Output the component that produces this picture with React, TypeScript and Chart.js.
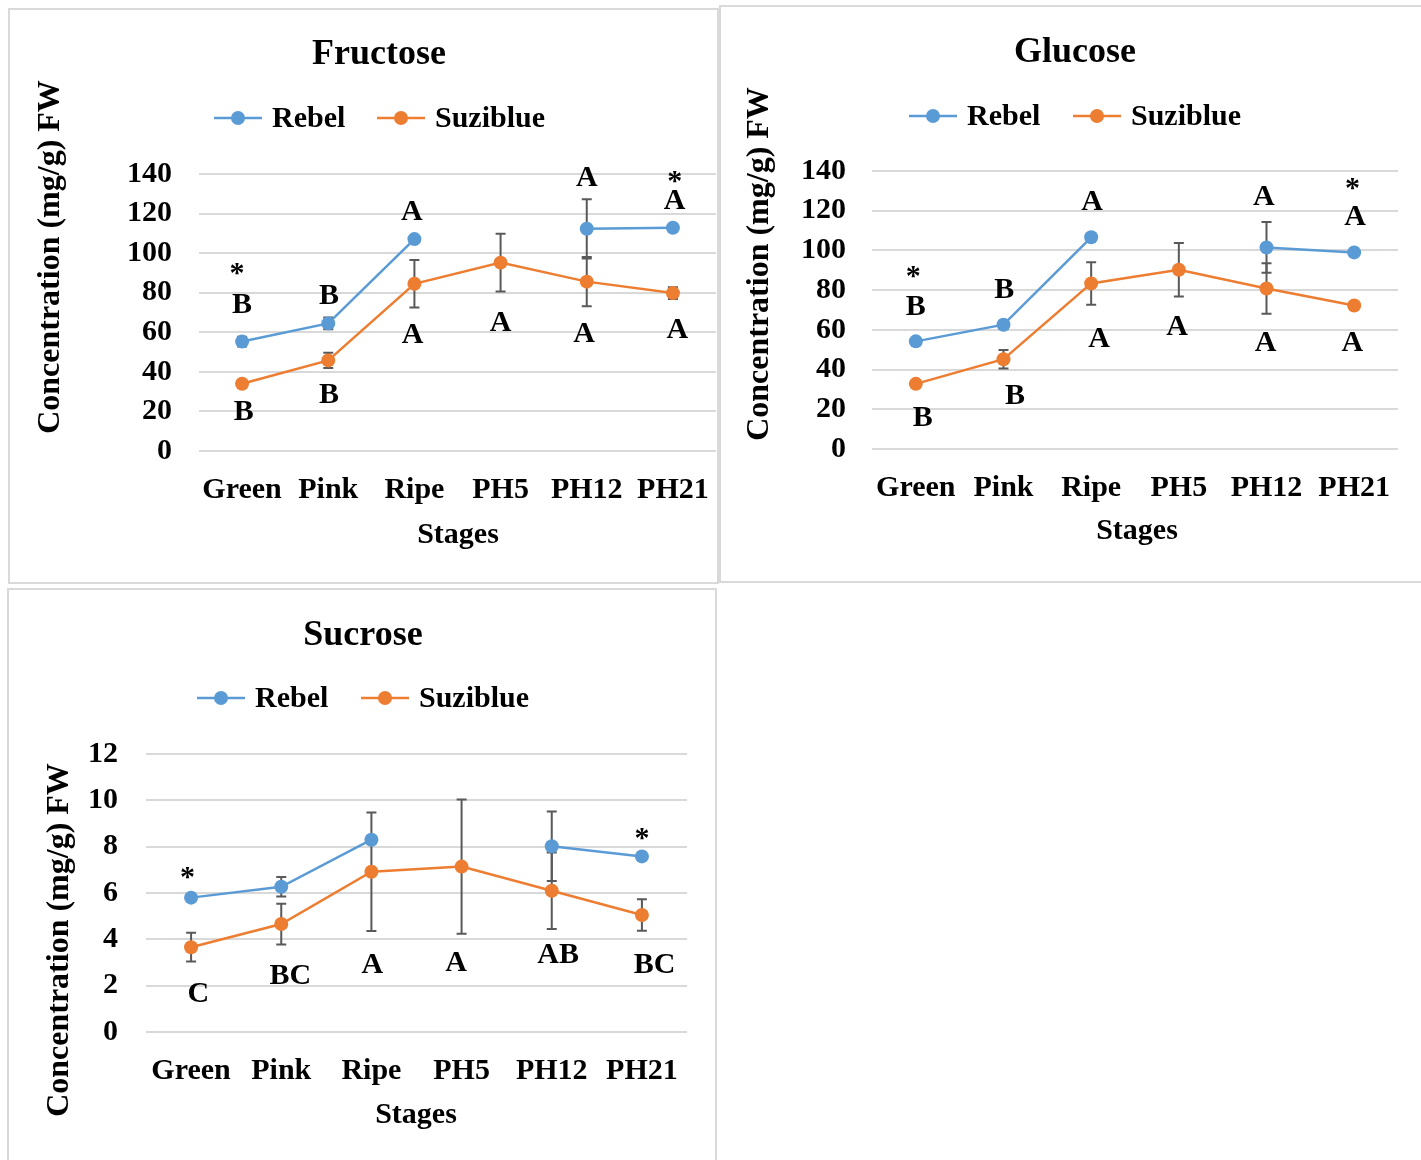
import React, { useEffect, useRef } from 'react';
import { Chart, registerables } from 'chart.js';

Chart.register(...registerables);

// ---------- data ----------
const stages = ['Green', 'Pink', 'Ripe', 'PH5', 'PH12', 'PH21'];
const seriesNames = ['Rebel', 'Suziblue'];

const fructoseRebel = [55.3, 64.5, 107.1, null, 112.3, 112.8];
const fructoseRebelErr = [2.5, 3, 1, null, 15, 1];
const fructoseSuziblue = [34.0, 45.8, 84.5, 95.2, 85.6, 79.8];
const fructoseSuziblueErr = [1.5, 3.8, 12, 14.6, 12.4, 3];

const glucoseRebel = [54.2, 62.6, 106.6, null, 101.5, 99.0];
const glucoseRebelErr = [1.2, 2, 1.2, null, 12.8, 1.2];
const glucoseSuziblue = [32.8, 45.2, 83.4, 90.3, 80.8, 72.3];
const glucoseSuziblueErr = [1.2, 4.7, 10.7, 13.5, 12.7, 1.2];

const sucroseRebel = [5.8, 6.27, 8.3, null, 8.02, 7.58];
const sucroseRebelErr = [0.12, 0.42, 0.15, null, 1.5, 0.12];
const sucroseSuziblue = [3.66, 4.66, 6.92, 7.14, 6.1, 5.05];
const sucroseSuziblueErr = [0.62, 0.88, 2.56, 2.9, 1.65, 0.68];

// significance letters: stage index (fractional), value, text
const fructoseNotes = [
  { stage: -0.06, value: 93, text: '*' },
  { stage: 0, value: 74.3, text: 'B' },
  { stage: 1.01, value: 78.8, text: 'B' },
  { stage: 1.97, value: 121, text: 'A' },
  { stage: 4, value: 138.5, text: 'A' },
  { stage: 5.02, value: 139.5, text: '*' },
  { stage: 5.02, value: 126.8, text: 'A' },
  { stage: 0.02, value: 20.2, text: 'B' },
  { stage: 1.01, value: 28.8, text: 'B' },
  { stage: 1.98, value: 59, text: 'A' },
  { stage: 3, value: 65.2, text: 'A' },
  { stage: 3.97, value: 59.6, text: 'A' },
  { stage: 5.05, value: 61.6, text: 'A' },
];
const glucoseNotes = [
  { stage: -0.03, value: 90.1, text: '*' },
  { stage: 0, value: 72, text: 'B' },
  { stage: 1.01, value: 80.6, text: 'B' },
  { stage: 2.01, value: 124.9, text: 'A' },
  { stage: 3.97, value: 127.4, text: 'A' },
  { stage: 4.98, value: 134.4, text: '*' },
  { stage: 5.01, value: 117.3, text: 'A' },
  { stage: 0.08, value: 16.1, text: 'B' },
  { stage: 1.13, value: 27.2, text: 'B' },
  { stage: 2.09, value: 55.9, text: 'A' },
  { stage: 2.98, value: 61.9, text: 'A' },
  { stage: 3.99, value: 53.9, text: 'A' },
  { stage: 4.98, value: 53.9, text: 'A' },
];
const sucroseNotes = [
  { stage: -0.04, value: 6.95, text: '*' },
  { stage: 5, value: 8.63, text: '*' },
  { stage: 0.08, value: 1.68, text: 'C' },
  { stage: 1.1, value: 2.46, text: 'BC' },
  { stage: 2.01, value: 2.93, text: 'A' },
  { stage: 2.94, value: 3.02, text: 'A' },
  { stage: 4.07, value: 3.37, text: 'AB' },
  { stage: 5.14, value: 2.93, text: 'BC' },
];

// ---------- styles ----------
const FAMILY = '"Liberation Serif", "Times New Roman", serif';
const BLUE = '#5B9BD5';
const ORANGE = '#ED7D31';
const GRID = '#d9d9d9';
const ERR = '#595959';

const decorPlugin = {
  id: 'decor',
  beforeDatasetsDraw(chart: any, _args: any, opts: any) {
    const ctx = chart.ctx;
    const xs = chart.scales.x;
    const ys = chart.scales.y;
    ctx.save();
    ctx.strokeStyle = ERR;
    ctx.lineWidth = 2;
    chart.data.datasets.forEach((ds: any, di: number) => {
      const errs = opts.errors[di];
      ds.data.forEach((v: number | null, i: number) => {
        if (v == null || errs[i] == null) return;
        const px = xs.getPixelForValue(i);
        const t = ys.getPixelForValue(v + errs[i]);
        const b = ys.getPixelForValue(v - errs[i]);
        ctx.beginPath();
        ctx.moveTo(px, t);
        ctx.lineTo(px, b);
        ctx.moveTo(px - 5, t);
        ctx.lineTo(px + 5, t);
        ctx.moveTo(px - 5, b);
        ctx.lineTo(px + 5, b);
        ctx.stroke();
      });
    });
    ctx.restore();
  },
  afterDraw(chart: any, _args: any, opts: any) {
    const ctx = chart.ctx;
    const xs = chart.scales.x;
    const ys = chart.scales.y;
    ctx.save();
    ctx.fillStyle = '#000';
    ctx.textBaseline = 'middle';
    // title
    ctx.font = `bold 36px ${FAMILY}`;
    ctx.textAlign = 'center';
    ctx.fillText(opts.title, opts.titlePos[0], opts.titlePos[1]);
    // legend
    ctx.font = `bold 30px ${FAMILY}`;
    ctx.textAlign = 'left';
    chart.data.datasets.forEach((ds: any, di: number) => {
      const x0 = opts.legendX[di];
      const y0 = opts.legendY;
      ctx.strokeStyle = ds.borderColor;
      ctx.lineWidth = 2.5;
      ctx.beginPath();
      ctx.moveTo(x0, y0);
      ctx.lineTo(x0 + 48, y0);
      ctx.stroke();
      ctx.fillStyle = ds.borderColor;
      ctx.beginPath();
      ctx.arc(x0 + 24, y0, 7, 0, Math.PI * 2);
      ctx.fill();
      ctx.fillStyle = '#000';
      ctx.fillText(ds.label, x0 + 58, y0 + 1);
    });
    // axis titles
    ctx.textAlign = 'center';
    ctx.fillText('Stages', opts.xTitlePos[0], opts.xTitlePos[1]);
    ctx.save();
    ctx.translate(opts.yTitlePos[0], opts.yTitlePos[1]);
    ctx.rotate(-Math.PI / 2);
    ctx.font = `bold 32px ${FAMILY}`;
    ctx.fillText('Concentration (mg/g) FW', 0, 0);
    ctx.restore();
    // significance letters
    ctx.font = `bold 30px ${FAMILY}`;
    ctx.textAlign = 'center';
    opts.notes.forEach((n: any) => {
      const px = xs.getPixelForValue(n.stage);
      const py = ys.getPixelForValue(n.value) + (n.text === '*' ? 7 : 1);
      ctx.fillText(n.text, px, py);
    });
    ctx.restore();
  },
};

type ChartProps = {
  w: number;
  h: number;
  padding: { left: number; right: number; top: number; bottom: number };
  yWidth: number;
  yMax: number;
  yStep: number;
  yTickPad: number;
  rebel: (number | null)[];
  suzi: (number | null)[];
  rebelErr: (number | null)[];
  suziErr: (number | null)[];
  notes: { stage: number; value: number; text: string }[];
  title: string;
  titlePos: number[];
  legendX: number[];
  legendY: number;
  xTitlePos: number[];
  yTitlePos: number[];
};

function SugarChart(p: ChartProps) {
  const ref = useRef<HTMLCanvasElement | null>(null);
  useEffect(() => {
    if (!ref.current) return;
    const tickFont = { family: FAMILY, size: 30, weight: 'bold' as const };
    const chart = new Chart(ref.current, {
      type: 'line',
      data: {
        labels: stages,
        datasets: [
          {
            label: seriesNames[0],
            data: p.rebel,
            borderColor: BLUE,
            backgroundColor: BLUE,
            pointBackgroundColor: BLUE,
            pointBorderWidth: 0,
            pointRadius: 7,
            borderWidth: 2.5,
            spanGaps: false,
            tension: 0,
          },
          {
            label: seriesNames[1],
            data: p.suzi,
            borderColor: ORANGE,
            backgroundColor: ORANGE,
            pointBackgroundColor: ORANGE,
            pointBorderWidth: 0,
            pointRadius: 7,
            borderWidth: 2.5,
            spanGaps: false,
            tension: 0,
          },
        ],
      },
      options: {
        responsive: false,
        animation: false,
        layout: { padding: p.padding },
        plugins: {
          legend: { display: false },
          title: { display: false },
          tooltip: { enabled: false },
          decor: {
            errors: [p.rebelErr, p.suziErr],
            notes: p.notes,
            title: p.title,
            titlePos: p.titlePos,
            legendX: p.legendX,
            legendY: p.legendY,
            xTitlePos: p.xTitlePos,
            yTitlePos: p.yTitlePos,
          },
        } as any,
        scales: {
          x: {
            type: 'category',
            offset: true,
            grid: { display: false, drawTicks: false },
            border: { display: false },
            ticks: { color: '#000', font: tickFont, padding: 21, maxRotation: 0, autoSkip: false },
            afterFit: (s: any) => {
              s.height = 60;
              s.paddingLeft = 0;
              s.paddingRight = 0;
            },
          },
          y: {
            min: 0,
            max: p.yMax,
            grid: { color: GRID, lineWidth: 2, drawTicks: false },
            border: { display: false },
            ticks: { color: '#000', font: tickFont, padding: p.yTickPad, stepSize: p.yStep },
            afterFit: (s: any) => {
              s.width = p.yWidth;
            },
          },
        },
      },
      plugins: [decorPlugin],
    });
    return () => chart.destroy();
  }, []);
  return <canvas ref={ref} width={p.w} height={p.h} style={{ display: 'block' }} />;
}

const panelStyle = (left: number, top: number, width: number, height: number): React.CSSProperties => ({
  position: 'absolute',
  left,
  top,
  width,
  height,
  border: `2px solid ${GRID}`,
  boxSizing: 'border-box',
  background: '#fff',
  overflow: 'hidden',
});

export default function App() {
  return (
    <div
      style={{
        position: 'absolute',
        left: 0,
        top: 0,
        width: 1421,
        height: 1160,
        overflow: 'hidden',
        background: '#fff',
      }}
    >
      <div style={panelStyle(8, 8, 711, 576)}>
        <SugarChart
          w={713}
          h={572}
          padding={{ left: 69, right: 1, top: 164, bottom: 71 }}
          yWidth={120}
          yMax={140}
          yStep={20}
          yTickPad={27}
          rebel={fructoseRebel}
          suzi={fructoseSuziblue}
          rebelErr={fructoseRebelErr}
          suziErr={fructoseSuziblueErr}
          notes={fructoseNotes}
          title="Fructose"
          titlePos={[369, 45]}
          legendX={[204, 367]}
          legendY={108}
          xTitlePos={[448, 525]}
          yTitlePos={[41, 247]}
        />
      </div>
      <div style={panelStyle(719, 5, 712, 578)}>
        <SugarChart
          w={708}
          h={574}
          padding={{ left: 31, right: 31, top: 164, bottom: 72 }}
          yWidth={120}
          yMax={140}
          yStep={20}
          yTickPad={26}
          rebel={glucoseRebel}
          suzi={glucoseSuziblue}
          rebelErr={glucoseRebelErr}
          suziErr={glucoseSuziblueErr}
          notes={glucoseNotes}
          title="Glucose"
          titlePos={[354, 46]}
          legendX={[188, 352]}
          legendY={109}
          xTitlePos={[416, 524]}
          yTitlePos={[39, 257]}
        />
      </div>
      <div style={panelStyle(7, 588, 710, 600)}>
        <SugarChart
          w={706}
          h={596}
          padding={{ left: 27, right: 28, top: 164, bottom: 94 }}
          yWidth={110}
          yMax={12}
          yStep={2}
          yTickPad={28}
          rebel={sucroseRebel}
          suzi={sucroseSuziblue}
          rebelErr={sucroseRebelErr}
          suziErr={sucroseSuziblueErr}
          notes={sucroseNotes}
          title="Sucrose"
          titlePos={[354, 46]}
          legendX={[188, 352]}
          legendY={108}
          xTitlePos={[407, 525]}
          yTitlePos={[51, 350]}
        />
      </div>
    </div>
  );
}
